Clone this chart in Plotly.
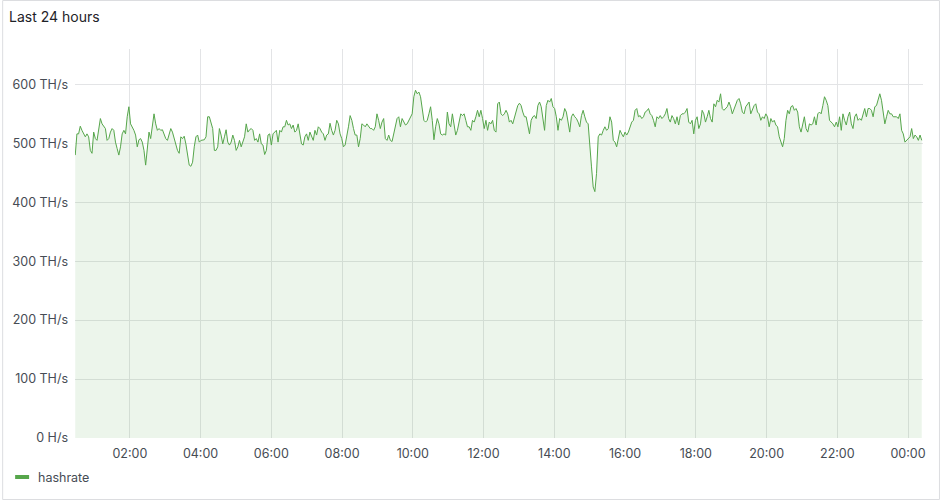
import pandas as pd
import plotly.graph_objects as go

# hashrate readings in TH/s, one block per ~4 hours of the window
hashrate_0030_0430 = [
    480, 516, 516, 529, 522, 516, 511, 516, 511, 488, 483, 519, 508, 505, 528, 542, 533, 528, 525, 505,
    508, 519, 525, 522, 502, 491, 480, 494, 516, 522, 516, 545, 562, 533, 528, 522, 514, 494, 506, 508,
    502, 488, 463, 497, 519, 508, 531, 550, 533, 522, 525, 522, 523, 516, 508, 505, 514, 525, 519, 508,
    502, 488, 483, 511, 508, 512, 499, 480, 463, 461, 468, 494, 511, 514, 502, 505, 506, 506, 511, 545,
    545, 536, 525, 488,
]
hashrate_0430_0830 = [
    488, 494, 525, 514, 499, 511, 523, 502, 497, 502, 514, 505, 488, 494, 505, 494, 502, 511, 533, 519,
    523, 525, 522, 505, 508, 502, 516, 499, 497, 481, 488, 514, 516, 497, 516, 519, 522, 502, 522, 519,
    528, 528, 539, 531, 533, 525, 531, 519, 522, 533, 516, 499, 497, 511, 516, 505, 519, 511, 505, 522,
    514, 528, 525, 519, 516, 505, 514, 516, 534, 522, 514, 522, 539, 533, 516, 508, 494, 497, 511, 528,
    547, 539, 525, 514, 514,
]
hashrate_0830_1230 = [
    494, 508, 533, 531, 528, 533, 528, 525, 525, 522, 528, 550, 539, 525, 536, 542, 508, 505, 514, 505,
    503, 516, 525, 542, 545, 528, 542, 536, 531, 533, 539, 545, 550, 579, 590, 584, 587, 579, 562, 539,
    536, 539, 550, 562, 539, 506, 528, 542, 533, 516, 514, 516, 514, 553, 533, 528, 550, 528, 514, 522,
    539, 550, 547, 550, 539, 528, 528, 522, 539, 536, 545, 556, 545, 556, 542, 525, 539, 522, 536, 533,
    539, 522, 519, 567, 570,
]
hashrate_1230_1630 = [
    550, 547, 550, 556, 550, 536, 539, 533, 545, 556, 564, 568, 564, 553, 545, 545, 528, 516, 539, 545,
    547, 542, 564, 570, 562, 539, 522, 564, 573, 570, 576, 562, 559, 545, 522, 542, 539, 545, 559, 553,
    539, 519, 545, 550, 545, 542, 536, 528, 547, 556, 545, 536, 533, 502, 460, 426, 418, 449, 511, 516,
    514, 522, 528, 522, 525, 545, 536, 505, 502, 494, 511, 522, 516, 511, 519, 514, 519, 528, 536, 539,
    556, 559, 545, 547, 542,
]
hashrate_1630_2030 = [
    545, 553, 555, 559, 550, 547, 539, 528, 545, 542, 547, 542, 545, 550, 559, 542, 536, 547, 542, 533,
    545, 531, 547, 550, 550, 553, 559, 536, 533, 539, 516, 539, 545, 525, 533, 556, 550, 536, 545, 556,
    542, 536, 567, 562, 573, 570, 584, 559, 556, 559, 562, 570, 562, 550, 559, 564, 573, 576, 567, 553,
    550, 562, 567, 570, 550, 559, 564, 567, 553, 550, 539, 545, 542, 550, 545, 528, 542, 536, 539, 531,
    528, 511, 502, 494, 508,
]
hashrate_2030_0025 = [
    539, 556, 550, 562, 564, 556, 559, 553, 528, 519, 533, 545, 525, 519, 533, 531, 533, 545, 531, 550,
    553, 550, 564, 579, 573, 564, 539, 536, 533, 528, 536, 528, 545, 522, 550, 539, 531, 545, 553, 533,
    525, 545, 550, 539, 542, 539, 550, 559, 545, 559, 559, 556, 545, 562, 564, 573, 584, 573, 556, 533,
    545, 556, 550, 550, 545, 545, 545, 542, 550, 522, 516, 502, 505, 508, 511, 525, 508, 514, 511, 505,
    514, 505,
]

hashrate = (hashrate_0030_0430 + hashrate_0430_0830 + hashrate_0830_1230
            + hashrate_1230_1630 + hashrate_1630_2030 + hashrate_2030_0025)
times = pd.date_range("2024-05-01 00:27:25", "2024-05-02 00:23:10", periods=len(hashrate))

y_ticks = [0, 100, 200, 300, 400, 500, 600]
y_labels = ["0 H/s", "100 TH/s", "200 TH/s", "300 TH/s", "400 TH/s", "500 TH/s", "600 TH/s"]

GREEN = "#56a64b"
GRID = "#e3e4e6"
TEXT = "#464c54"
FONT = "Inter, Roboto, sans-serif"

fig = go.Figure()
fig.add_trace(go.Scatter(
    x=times, y=hashrate, mode="lines", name="hashrate",
    line=dict(color=GREEN, width=1),
    fill="tozeroy", fillcolor="rgba(86,166,75,0.11)",
    showlegend=False, hoverinfo="skip",
))

fig.update_layout(
    width=940, height=500,
    margin=dict(l=73, r=17, t=49, b=62),
    paper_bgcolor="white", plot_bgcolor="white",
    font=dict(family=FONT, size=12.5, color=TEXT),
    title=dict(text="Last 24 hours", x=9 / 940, xref="container", xanchor="left",
               y=1 - 17 / 500, yref="container", yanchor="middle",
               font=dict(family=FONT, size=14, color="#1e2228")),
    xaxis=dict(
        range=["2024-05-01 00:27:00", "2024-05-02 00:25:20"],
        tick0="2024-05-01 00:00", dtick=2 * 3600 * 1000, tickformat="%H:%M",
        showgrid=True, gridcolor=GRID, gridwidth=1, zeroline=False,
        showline=False, ticks="", ticklabelstandoff=6,
    ),
    yaxis=dict(
        range=[0, 660], tickvals=y_ticks, ticktext=y_labels,
        showgrid=True, gridcolor=GRID, gridwidth=1, zeroline=False,
        showline=False, ticks="", ticklabelstandoff=6,
    ),
)

# panel border
pw, ph = 850, 389
def px(x):
    return (x - 73) / pw
def py(y):
    return (438 - y) / ph

fig.add_shape(type="rect", xref="paper", yref="paper",
              x0=px(0.5), x1=px(939.5), y0=py(499.5), y1=py(0.5),
              line=dict(color="#dcdde0", width=1), layer="below")

# legend like grafana: short bar + label
fig.add_shape(type="line", xref="paper", yref="paper",
              x0=px(13), x1=px(27), y0=py(477), y1=py(477),
              line=dict(color=GREEN, width=4))
fig.add_annotation(text="hashrate", xref="paper", yref="paper",
                   x=px(34), y=py(477), xanchor="left", yanchor="middle",
                   showarrow=False, font=dict(family=FONT, size=12.5, color=TEXT))

# drop the default page margin so the panel sits at the window's corner
fig.write_html("out.html", config={"displayModeBar": False},
               post_script="document.body.style.margin='0';")
